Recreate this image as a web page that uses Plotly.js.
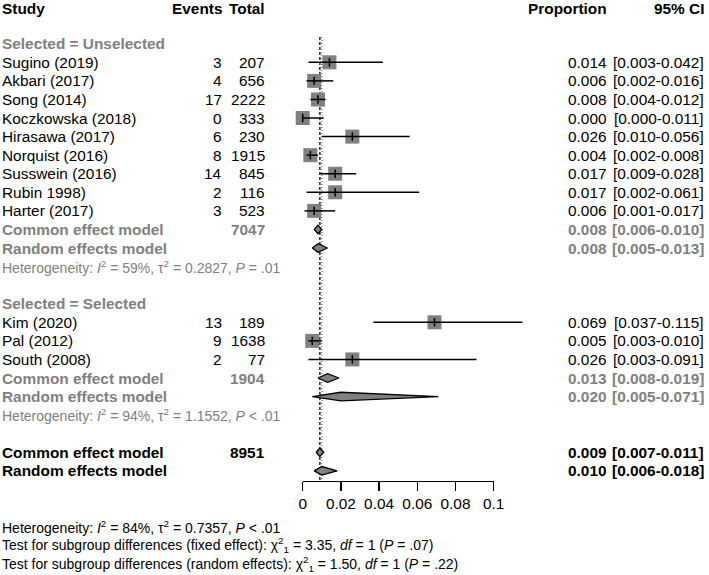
<!DOCTYPE html>
<html><head><meta charset="utf-8">
<script src="https://cdn.plot.ly/plotly-3.0.1.min.js"></script>
<style>html,body{margin:0;padding:0;background:#fff;} #chart{width:709px;height:575px;}</style>
</head><body><div id="chart"></div>
<script>
// ---------------- data ----------------
const groupNames = ["Unselected", "Selected"];
const studies = ["Sugino (2019)", "Akbari (2017)", "Song (2014)", "Koczkowska (2018)", "Hirasawa (2017)",
  "Norquist (2016)", "Susswein (2016)", "Rubin 1998)", "Harter (2017)", "Kim (2020)", "Pal (2012)", "South (2008)"];
const studyGroup = [0, 0, 0, 0, 0, 0, 0, 0, 0, 1, 1, 1];
const events = [3, 4, 17, 0, 6, 8, 14, 2, 3, 13, 9, 2];
const totals = [207, 656, 2222, 333, 230, 1915, 845, 116, 523, 189, 1638, 77];
const props  = [0.014, 0.006, 0.008, 0.000, 0.026, 0.004, 0.017, 0.017, 0.006, 0.069, 0.005, 0.026];
const lowers = [0.003, 0.002, 0.004, 0.000, 0.010, 0.002, 0.009, 0.002, 0.001, 0.037, 0.003, 0.003];
const uppers = [0.042, 0.016, 0.012, 0.011, 0.056, 0.008, 0.028, 0.061, 0.017, 0.115, 0.010, 0.091];

const subTotals   = [7047, 1904];
const subCommon   = [0.008, 0.013];
const subCommonLo = [0.006, 0.008];
const subCommonHi = [0.010, 0.019];
const subRandom   = [0.008, 0.020];
const subRandomLo = [0.005, 0.005];
const subRandomHi = [0.013, 0.071];
const subI2   = ["59%", "94%"];
const subTau2 = ["0.2827", "1.1552"];
const subP    = ["= .01", "< .01"];

const overallTotal = 8951;
const overallCommon = [0.009, 0.007, 0.011];   // est, lo, hi
const overallRandom = [0.010, 0.006, 0.018];
const overallHet = ["84%", "0.7357", "< .01"];
const testFixed  = ["3.35", "1", "= .07"];
const testRandom = ["1.50", "1", "= .22"];

const tickVals = [0, 0.02, 0.04, 0.06, 0.08, 0.1];
const tickText = ["0", "0.02", "0.04", "0.06", "0.08", "0.1"];

// ---------------- layout constants ----------------
const W = 709, H = 575;
const ROW0 = 6.6, ROWH = 18.57;
const X0PX = 302.7, PXU = 1910;           // px of x=0, px per unit
const AXPX = 480.7;                        // axis line y px
const FONT = "Liberation Sans, Arial, Helvetica, sans-serif";
const GREY = "#808080";
const FS = 15.4, FSH = 14;
const COL = {study: 1, events: 223, total: 266, prop: 608, ci: 705};
const DH = 4.3 / ROWH;                      // diamond half height in rows
const f3 = v => v.toFixed(3);

const annotations = [];
function ann(text, xpx, row, align, color, size, yshift) {
  annotations.push({
    text: text, xref: "paper", yref: "y", x: xpx / W, y: row,
    xanchor: align, yanchor: "middle", showarrow: false, borderpad: 0, yshift: yshift || 0,
    font: {family: FONT, size: size || FS, color: color || "#000"}
  });
}

// header
ann("<b>Study</b>", COL.study, 0, "left", "#000", FS, -2);
ann("<b>Events</b>", COL.events, 0, "right", "#000", FS, -2);
ann("<b>Total</b>", COL.total, 0, "right", "#000", FS, -2);
ann("<b>Proportion</b>", COL.prop, 0, "right", "#000", FS, -2);
ann("<b>95% CI</b>", COL.ci, 0, "right", "#000", FS, -2);

const sqX = [], sqY = [], ciX = [], ciY = [], diamonds = [];
let r = 2;
groupNames.forEach((g, gi) => {
  ann("<b>Selected = " + g + "</b>", COL.study, r, "left", GREY);
  r++;
  studies.forEach((s, i) => {
    if (studyGroup[i] !== gi) return;
    ann(s, COL.study, r, "left");
    ann(String(events[i]), COL.events, r, "right");
    ann(String(totals[i]), COL.total, r, "right");
    ann(f3(props[i]), COL.prop, r, "right");
    ann("[" + f3(lowers[i]) + "-" + f3(uppers[i]) + "]", COL.ci, r, "right");
    sqX.push(props[i]); sqY.push(r);
    ciX.push(lowers[i], uppers[i], null); ciY.push(r, r, null);
    r++;
  });
  ann("<b>Common effect model</b>", COL.study, r, "left", GREY);
  ann("<b>" + subTotals[gi] + "</b>", COL.total, r, "right", GREY);
  ann("<b>" + f3(subCommon[gi]) + "</b>", COL.prop, r, "right", GREY);
  ann("<b>[" + f3(subCommonLo[gi]) + "-" + f3(subCommonHi[gi]) + "]</b>", COL.ci, r, "right", GREY);
  diamonds.push([subCommonLo[gi], subCommon[gi], subCommonHi[gi], r]);
  r++;
  ann("<b>Random effects model</b>", COL.study, r, "left", GREY);
  ann("<b>" + f3(subRandom[gi]) + "</b>", COL.prop, r, "right", GREY);
  ann("<b>[" + f3(subRandomLo[gi]) + "-" + f3(subRandomHi[gi]) + "]</b>", COL.ci, r, "right", GREY);
  diamonds.push([subRandomLo[gi], subRandom[gi], subRandomHi[gi], r]);
  r++;
  ann("Heterogeneity: <i>I</i><sup>2</sup> = " + subI2[gi] + ", τ<sup>2</sup> = " + subTau2[gi] +
      ", <i>P</i> " + subP[gi], COL.study, r, "left", GREY, FSH);
  r += 2;
});
// overall
ann("<b>Common effect model</b>", COL.study, r, "left");
ann("<b>" + overallTotal + "</b>", COL.total, r, "right");
ann("<b>" + f3(overallCommon[0]) + "</b>", COL.prop, r, "right");
ann("<b>[" + f3(overallCommon[1]) + "-" + f3(overallCommon[2]) + "]</b>", COL.ci, r, "right");
diamonds.push([overallCommon[1], overallCommon[0], overallCommon[2], r]);
r++;
ann("<b>Random effects model</b>", COL.study, r, "left");
ann("<b>" + f3(overallRandom[0]) + "</b>", COL.prop, r, "right");
ann("<b>[" + f3(overallRandom[1]) + "-" + f3(overallRandom[2]) + "]</b>", COL.ci, r, "right");
diamonds.push([overallRandom[1], overallRandom[0], overallRandom[2], r]);
r += 3;
ann("Heterogeneity: <i>I</i><sup>2</sup> = " + overallHet[0] + ", τ<sup>2</sup> = " + overallHet[1] +
    ", <i>P</i> " + overallHet[2], COL.study, r, "left", "#000", FSH);
r++;
ann("Test for subgroup differences (fixed effect): χ<sup>2</sup><sub>" + testFixed[1] + "</sub> = " + testFixed[0] +
    ", <i>df</i> = " + testFixed[1] + " (<i>P</i> " + testFixed[2] + ")", COL.study, r, "left", "#000", FSH);
r++;
ann("Test for subgroup differences (random effects): χ<sup>2</sup><sub>" + testRandom[1] + "</sub> = " + testRandom[0] +
    ", <i>df</i> = " + testRandom[1] + " (<i>P</i> " + testRandom[2] + ")", COL.study, r, "left", "#000", FSH);

// ---------------- traces ----------------
const traces = [];
traces.push({x: sqX, y: sqY, type: "scatter", mode: "markers", hoverinfo: "skip", showlegend: false,
  marker: {symbol: "square", size: 14, color: GREY, line: {width: 0}}});
traces.push({x: ciX, y: ciY, type: "scatter", mode: "lines", hoverinfo: "skip", showlegend: false,
  line: {color: "#000", width: 1.5}});
traces.push({x: sqX, y: sqY, type: "scatter", mode: "markers", hoverinfo: "skip", showlegend: false,
  marker: {symbol: "line-ns-open", size: 6, color: "#000", line: {width: 1.5, color: "#000"}}});
diamonds.forEach(d => {
  traces.push({x: [d[0], d[1], d[2], d[1], d[0]], y: [d[3], d[3] - DH, d[3], d[3] + DH, d[3]],
    type: "scatter", mode: "lines", fill: "toself", fillcolor: GREY, hoverinfo: "skip", showlegend: false,
    line: {color: "#000", width: 1.3}});
});
// dummy trace for the visible axis
traces.push({x: [0.05], y: [0], xaxis: "x2", yaxis: "y", type: "scatter", mode: "markers",
  marker: {opacity: 0, size: 1}, hoverinfo: "skip", showlegend: false});

const axisRow = (AXPX - ROW0) / ROWH;
const topRow = (37 - ROW0) / ROWH;
const layout = {
  width: W, height: H, margin: {l: 0, r: 0, t: 0, b: 0},
  paper_bgcolor: "#fff", plot_bgcolor: "rgba(0,0,0,0)", showlegend: false,
  xaxis: {domain: [0, 1], range: [-X0PX / PXU, (W - X0PX) / PXU], visible: false, fixedrange: true},
  xaxis2: {domain: [X0PX / W, (X0PX + 0.1 * PXU) / W], range: [0, 0.1], anchor: "free",
    position: 1 - AXPX / H, tickvals: tickVals, ticktext: tickText, ticks: "outside", ticklen: 8.5,
    tickwidth: 1.5, tickcolor: "#000", showline: true, linewidth: 1.5, linecolor: "#000",
    showgrid: false, zeroline: false, ticklabelstandoff: 0,
    tickfont: {family: FONT, size: FS, color: "#000"}, fixedrange: true},
  yaxis: {domain: [0, 1], range: [(H - ROW0) / ROWH, -ROW0 / ROWH], visible: false, fixedrange: true},
  shapes: [
    {type: "line", xref: "x", yref: "y", x0: overallCommon[0], x1: overallCommon[0], y0: topRow, y1: axisRow,
     layer: "below", line: {color: "#000", width: 1.3, dash: "3px,2px"}},
    {type: "line", xref: "x", yref: "y", x0: overallRandom[0], x1: overallRandom[0], y0: topRow, y1: axisRow,
     layer: "below", line: {color: "#777", width: 1.2, dash: "1px,2px"}}
  ],
  annotations: annotations
};
Plotly.newPlot("chart", traces, layout, {staticPlot: true, displayModeBar: false});
</script>
</body></html>
